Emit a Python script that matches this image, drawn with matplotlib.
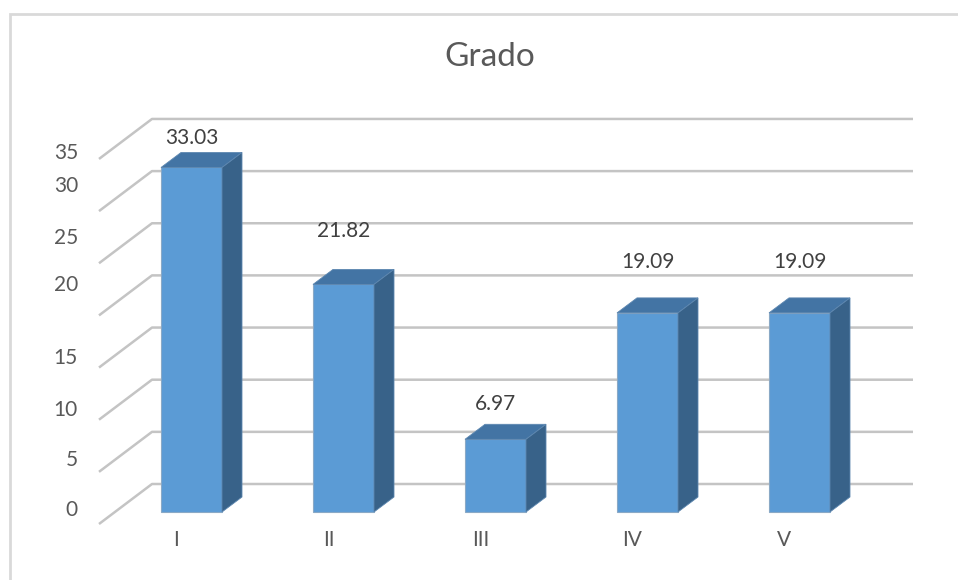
import matplotlib
matplotlib.use('Agg')
import matplotlib.pyplot as plt
from matplotlib.patches import Polygon, Rectangle

plt.rcParams['font.family'] = ['Lato', 'DejaVu Sans']

# data
categories = ['I', 'II', 'III', 'IV', 'V']
values = [33.03, 21.82, 6.97, 19.09, 19.09]
y_ticks = [0, 5, 10, 15, 20, 25, 30, 35]

# layout (pixels on a 958x580 canvas)
W, H = 958, 580
x0_px, step_px = 191.5, 152.0     # centre of first bar, spacing
base_px, unit_px = 512.0, 10.43   # y of value 0 on bar front, px per unit
tick_label_px = [510, 460, 410, 358, 285, 238, 186, 153]
value_label_gap_px = [29, 53, 35, 51, 51]

def xd(px):
    return (px - x0_px) / step_px

def yd(py):
    return (base_px - py) / unit_px

bar_w = 61 / step_px
dx, dy = 20 / step_px, 15 / unit_px

fig = plt.figure(figsize=(W / 100, H / 100), dpi=100)
ax = fig.add_axes([0, 0, 1, 1])
ax.set_xlim(xd(0), xd(W))
ax.set_ylim(yd(H), yd(0))
ax.axis('off')

# chart border
fig.add_artist(Rectangle((10 / W, -0.1), 1.2, 1.1 - 14 / H,
                         transform=fig.transFigure, fill=False,
                         edgecolor='#d9d9d9', lw=2))

# gridlines: left wall diagonal + back wall horizontal
grid_c = '#c4c4c4'
front_off = yd(524)
back_off = yd(484)
for v in y_ticks:
    ax.plot([xd(99), xd(152), xd(913)],
            [v + front_off, v + back_off, v + back_off],
            color=grid_c, lw=1.8, solid_capstyle='butt', zorder=1)

# bars
front_c, top_c, side_c = '#5b9bd5', '#4374a4', '#386289'
xs = list(range(len(categories)))
ax.bar(xs, values, width=bar_w, bottom=0, color=front_c,
       edgecolor='#8aa9c6', lw=0.8, zorder=3)
for x, v in zip(xs, values):
    l, r = x - bar_w / 2, x + bar_w / 2
    ax.add_patch(Polygon([(l, v), (l + dx, v + dy), (r + dx, v + dy), (r, v)],
                         closed=True, facecolor=top_c, edgecolor='#5d87b0',
                         lw=0.6, zorder=3))
    ax.add_patch(Polygon([(r, 0), (r, v), (r + dx, v + dy), (r + dx, dy)],
                         closed=True, facecolor=side_c, edgecolor='#5d87b0',
                         lw=0.6, zorder=3))

# value labels
for x, v, g in zip(xs, values, value_label_gap_px):
    ax.text(x, v + g / unit_px, f'{v:.2f}', ha='center', va='center',
            fontsize=15, color='#404040', zorder=4)

# axis tick labels
for t, py in zip(y_ticks, tick_label_px):
    ax.text(xd(78), yd(py), str(t), ha='right', va='center',
            fontsize=15, color='#595959')
for x, c in zip(xs, categories):
    ax.text(x - 15 / step_px, yd(540), c, ha='center', va='center',
            fontsize=15, color='#595959')

# title
ax.text(xd(490), yd(57), 'Grado', ha='center', va='center',
        fontsize=24, color='#595959')

fig.savefig('out.png', dpi=100)
